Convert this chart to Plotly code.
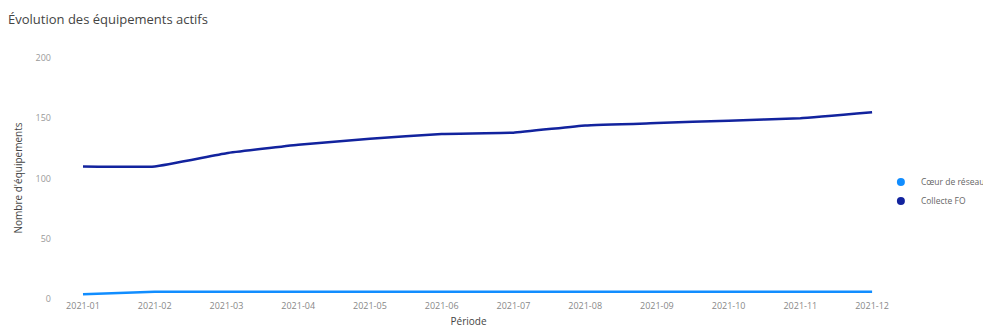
import plotly.graph_objects as go

periods = ["2021-01", "2021-02", "2021-03", "2021-04", "2021-05", "2021-06",
           "2021-07", "2021-08", "2021-09", "2021-10", "2021-11", "2021-12"]
coeur_reseau = [4, 6, 6, 6, 6, 6, 6, 6, 6, 6, 6, 6]
collecte_fo = [110, 110, 121, 128, 133, 137, 138, 144, 146, 148, 150, 155]
y_ticks = [0, 50, 100, 150, 200]

c_coeur = "#118DFF"
c_fo = "#12239E"
font_fam = "Open Sans, Noto Sans, sans-serif"

fig = go.Figure()
fig.add_trace(go.Scatter(x=periods, y=coeur_reseau, mode="lines", name="Cœur de réseau",
                         line=dict(color=c_coeur, width=2.5, shape="spline", smoothing=0.3),
                         showlegend=False))
fig.add_trace(go.Scatter(x=periods, y=collecte_fo, mode="lines", name="Collecte FO",
                         line=dict(color=c_fo, width=2.5, shape="spline", smoothing=0.3),
                         showlegend=False))
# legend-only entries with circle markers
fig.add_trace(go.Scatter(x=[None], y=[None], mode="markers", name="Cœur de réseau",
                         marker=dict(color=c_coeur, size=8, symbol="circle")))
fig.add_trace(go.Scatter(x=[None], y=[None], mode="markers", name="Collecte FO",
                         marker=dict(color=c_fo, size=8, symbol="circle")))

fig.update_layout(
    width=983, height=326,
    margin=dict(l=44, r=106, t=50, b=35, autoexpand=False),
    paper_bgcolor="white", plot_bgcolor="white",
    font=dict(family=font_fam, color="#777777", size=9),
    title=dict(text="Évolution des équipements actifs", x=0.0, xanchor="left",
               y=0.966, yanchor="middle",
               font=dict(family=font_fam, size=13, color="#444444")),
    showlegend=True,
    legend=dict(xref="container", yref="container", x=0.888, xanchor="left",
                y=0.437, yanchor="middle",
                font=dict(size=8.5, color="#666666"), bgcolor="rgba(0,0,0,0)",
                itemwidth=30, tracegroupgap=2),
    xaxis=dict(type="category", categoryorder="array", categoryarray=periods,
               range=[-0.432, 11.18], showgrid=False, zeroline=False, showline=False,
               ticks="", tickfont=dict(size=9, color="#888888"), automargin=False,
               title=dict(text="Période", font=dict(size=10, color="#444444"), standoff=6)),
    yaxis=dict(range=[0, 200], tickvals=y_ticks, showgrid=False, zeroline=False,
               showline=False, ticks="", tickfont=dict(size=9, color="#999999"),
               automargin=False),
    annotations=[dict(text="Nombre d'équipements", xref="paper", yref="paper",
                      x=0, y=0.5, xshift=-35, xanchor="center", yanchor="middle",
                      textangle=-90, showarrow=False,
                      font=dict(size=10, color="#444444"))],
)

fig.write_html("out.html")
